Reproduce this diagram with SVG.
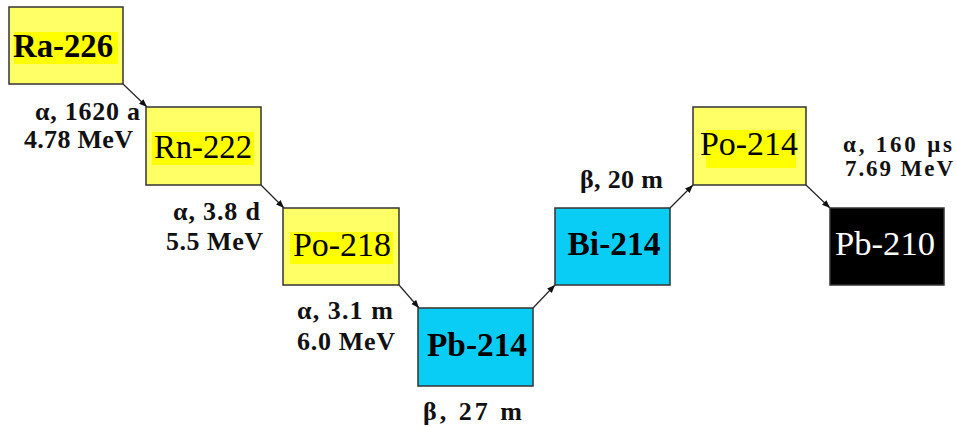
<svg xmlns="http://www.w3.org/2000/svg" width="956" height="427" viewBox="0 0 956 427">
<defs>
<marker id="ah" viewBox="0 0 10 10" refX="10" refY="5" markerWidth="8" markerHeight="8" orient="auto" markerUnits="userSpaceOnUse">
<path d="M0,1 L10,5 L0,9 z" fill="#111"/>
</marker>
<style>
.box{stroke:#333;stroke-width:1.5}
.y{fill:#FFFF66}
.c{fill:#0ACDF5}
.k{fill:#000}
.hl{fill:#FFFF00}
.nt{font-family:"Liberation Serif","Times New Roman",serif;font-size:33px;text-anchor:middle;fill:#000}
.lb{font-family:"Liberation Serif","Times New Roman",serif;font-size:26px;font-weight:bold;fill:#111}
.sm{font-size:23px}
.cn{stroke:#222;stroke-width:1.2;fill:none;marker-end:url(#ah)}
</style>
</defs>
<rect width="956" height="427" fill="#fff"/>
<g id="connectors">
<line class="cn" x1="123" y1="84" x2="147" y2="107"/>
<line class="cn" x1="261" y1="185" x2="284" y2="208"/>
<line class="cn" x1="399" y1="285" x2="419" y2="308"/>
<line class="cn" x1="533" y1="308" x2="555" y2="285"/>
<line class="cn" x1="670" y1="208" x2="693" y2="185"/>
<line class="cn" x1="806" y1="185" x2="830" y2="208"/>
</g>
<g id="ra226">
<rect class="box y" x="9" y="7" width="114" height="77"/>
<rect class="hl" x="14" y="32" width="104" height="32"/>
<text class="nt" x="63" y="57" font-weight="bold" textLength="100" lengthAdjust="spacingAndGlyphs">Ra-226</text>
</g>
<g id="rn222">
<rect class="box y" x="146" y="107" width="115" height="78"/>
<rect class="hl" x="152" y="132" width="102" height="33"/>
<text class="nt" x="203" y="158" textLength="98" lengthAdjust="spacingAndGlyphs">Rn-222</text>
</g>
<g id="po218">
<rect class="box y" x="283" y="208" width="116" height="77"/>
<rect class="hl" x="290" y="232" width="103" height="32"/>
<text class="nt" x="342" y="256" textLength="98" lengthAdjust="spacingAndGlyphs">Po-218</text>
</g>
<g id="pb214">
<rect class="box c" x="418" y="308" width="115" height="78"/>
<text class="nt" x="477" y="356" font-weight="bold" textLength="100" lengthAdjust="spacingAndGlyphs">Pb-214</text>
</g>
<g id="bi214">
<rect class="box c" x="555" y="208" width="115" height="77"/>
<text class="nt" x="614" y="255" font-weight="bold" textLength="93" lengthAdjust="spacingAndGlyphs">Bi-214</text>
</g>
<g id="po214">
<rect class="box y" x="693" y="107" width="113" height="78"/>
<rect class="hl" x="706" y="130" width="90" height="38"/>
<text class="nt" x="749" y="155" textLength="98" lengthAdjust="spacingAndGlyphs">Po-214</text>
</g>
<g id="pb210">
<rect class="box k" x="830" y="208" width="114" height="77"/>
<text class="nt" x="885" y="255" style="fill:#fff" textLength="100" lengthAdjust="spacingAndGlyphs">Pb-210</text>
</g>
<g id="labels">
<text class="lb" x="35" y="120" textLength="105" lengthAdjust="spacing">α, 1620 a</text>
<text class="lb" x="24" y="148" textLength="109" lengthAdjust="spacing">4.78 MeV</text>
<text class="lb" x="173" y="220" textLength="87" lengthAdjust="spacing">α, 3.8 d</text>
<text class="lb" x="166" y="250" textLength="97" lengthAdjust="spacing">5.5 MeV</text>
<text class="lb" x="297" y="319" textLength="96" lengthAdjust="spacing">α, 3.1 m</text>
<text class="lb" x="297" y="350" textLength="98" lengthAdjust="spacing">6.0 MeV</text>
<text class="lb" x="423" y="420" textLength="99" lengthAdjust="spacing">β, 27 m</text>
<text class="lb" x="580" y="188" textLength="83" lengthAdjust="spacing">β, 20 m</text>
<text class="lb sm" x="843" y="152" textLength="109" lengthAdjust="spacing">α, 160 μs</text>
<text class="lb sm" x="845" y="176" textLength="108" lengthAdjust="spacing">7.69 MeV</text>
</g>
</svg>
